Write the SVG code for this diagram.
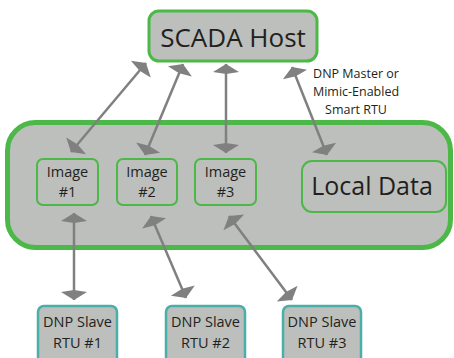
<svg xmlns="http://www.w3.org/2000/svg" width="454" height="358" viewBox="0 0 454 358">
<style>
.t{font-family:"Open Sans","Noto Sans",sans-serif;fill:#231f20;text-anchor:middle}
.g{fill:#bcbfbb;stroke:#4cb848}
.s{fill:#bcbfbb;stroke:#4aafa9;stroke-width:2.5}
.c{stroke:#808080;stroke-width:2.5;fill:none;marker-start:url(#ah);marker-end:url(#ah)}
</style>
<defs>
<marker id="ah" markerUnits="userSpaceOnUse" viewBox="0 0 10 26" markerWidth="10" markerHeight="26" refX="10" refY="13" orient="auto-start-reverse">
<path d="M0,13 L2,0 L10,13 L2,26 z" fill="#808080"/>
</marker>
</defs>
<rect x="0" y="0" width="454" height="358" fill="#fff"/>
<g id="container"><rect class="g" x="7.5" y="122.5" width="443" height="125" rx="28" stroke-width="5"/></g>
<g id="scada"><rect class="g" x="149" y="11" width="168" height="50" rx="10" stroke-width="3"/><text class="t" x="233" y="47" font-size="26">SCADA Host</text></g>
<g id="label"><text class="t" x="356" y="78" font-size="12.5">DNP Master or</text><text class="t" x="356" y="96" font-size="12.5">Mimic-Enabled</text><text class="t" x="356" y="114" font-size="12.5">Smart RTU</text></g>
<g id="img1"><rect class="g" x="37" y="159" width="61" height="46" rx="6" stroke-width="2"/><text class="t" x="67.5" y="177" font-size="14.5">Image</text><text class="t" x="67.5" y="197" font-size="14.5">#1</text></g>
<g id="img2"><rect class="g" x="117" y="159" width="60" height="46" rx="6" stroke-width="2"/><text class="t" x="147" y="177" font-size="14.5">Image</text><text class="t" x="147" y="197" font-size="14.5">#2</text></g>
<g id="img3"><rect class="g" x="195" y="159" width="61" height="46" rx="6" stroke-width="2"/><text class="t" x="225.5" y="177" font-size="14.5">Image</text><text class="t" x="225.5" y="197" font-size="14.5">#3</text></g>
<g id="local"><rect class="g" x="302" y="161" width="144" height="51" rx="10" stroke-width="2"/><text class="t" x="372" y="195" font-size="25">Local Data</text></g>
<g id="rtu1"><rect class="s" x="38" y="306" width="79" height="60" rx="6"/><text class="t" x="77.5" y="327" font-size="14.5">DNP Slave</text><text class="t" x="77.5" y="348" font-size="14.5">RTU #1</text></g>
<g id="rtu2"><rect class="s" x="166" y="306" width="79" height="60" rx="6"/><text class="t" x="205.5" y="327" font-size="14.5">DNP Slave</text><text class="t" x="205.5" y="348" font-size="14.5">RTU #2</text></g>
<g id="rtu3"><rect class="s" x="283" y="306" width="78" height="60" rx="6"/><text class="t" x="322" y="327" font-size="14.5">DNP Slave</text><text class="t" x="322" y="348" font-size="14.5">RTU #3</text></g>
<g id="connectors">
<line class="c" x1="146" y1="63" x2="71" y2="152"/>
<line class="c" x1="183" y1="64" x2="145" y2="155"/>
<line class="c" x1="226" y1="64" x2="226" y2="153"/>
<line class="c" x1="292" y1="67" x2="327" y2="155"/>
<line class="c" x1="74" y1="213" x2="74" y2="300"/>
<line class="c" x1="151" y1="216" x2="186" y2="298"/>
<line class="c" x1="229" y1="216" x2="292" y2="300"/>
</g>
</svg>
